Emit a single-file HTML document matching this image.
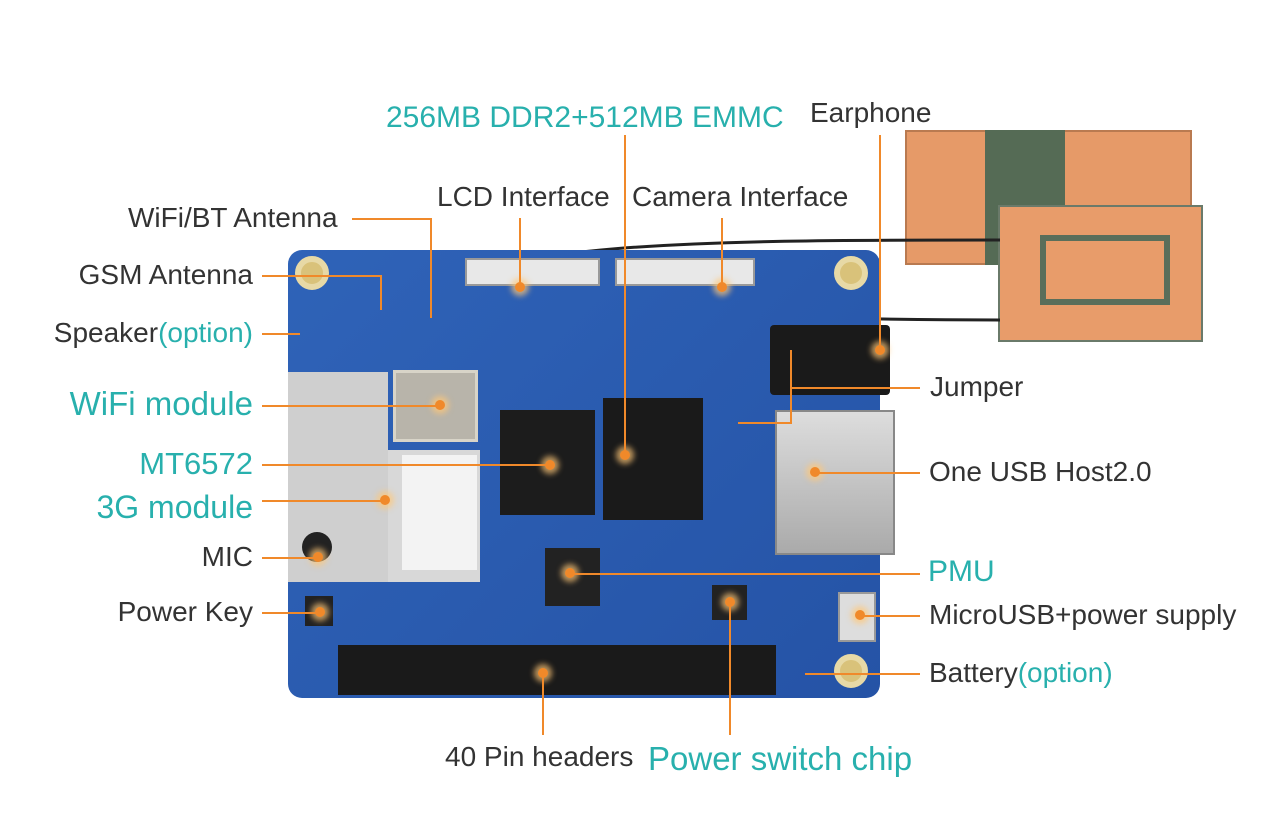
<!DOCTYPE html>
<html><head><meta charset="utf-8"><style>
body{margin:0;width:1282px;height:835px;background:#fff;position:relative;overflow:hidden;font-family:"Liberation Sans",sans-serif}
div{position:absolute;box-sizing:border-box}
.t{font-size:28px;color:#333;white-space:nowrap;line-height:30px}
.r{text-align:right;right:1029px}
.c{color:#28b0ad}
.h{height:2px;background:#f0892a}
.v{width:2px;background:#f0892a}
.dot{width:10px;height:10px;border-radius:50%;background:#f0892a;box-shadow:0 0 6px 4px rgba(255,200,120,.7)}
</style></head><body>
<div style="left:905px;top:130px;width:287px;height:135px;background:#e69a68;border:2px solid #b97a50"></div>
<div style="left:985px;top:130px;width:80px;height:135px;background:#556b55"></div>
<div style="left:998px;top:205px;width:205px;height:137px;background:#e89c6a;border:2px solid #6a7a6a"></div>
<div style="left:1040px;top:235px;width:130px;height:70px;border:6px solid #5a6e5a"></div>
<svg style="position:absolute;left:0;top:0" width="1282" height="835"><path d="M420 320 C430 240 700 240 1000 240" stroke="#222" stroke-width="3" fill="none"/><path d="M440 320 C470 300 700 320 1000 320" stroke="#222" stroke-width="3" fill="none"/></svg>
<div style="left:288px;top:250px;width:592px;height:448px;background:linear-gradient(135deg,#2f63b8,#2553a6);border-radius:14px"></div>
<div style="left:295px;top:256px;width:34px;height:34px;border-radius:50%;background:#d9c27a;border:6px solid #e7d9a6"></div>
<div style="left:834px;top:256px;width:34px;height:34px;border-radius:50%;background:#d9c27a;border:6px solid #e7d9a6"></div>
<div style="left:834px;top:654px;width:34px;height:34px;border-radius:50%;background:#d9c27a;border:6px solid #e7d9a6"></div>
<div style="left:465px;top:258px;width:135px;height:28px;background:#e8e8e8;border:2px solid #999"></div>
<div style="left:615px;top:258px;width:140px;height:28px;background:#e8e8e8;border:2px solid #999"></div>
<div style="left:288px;top:372px;width:100px;height:210px;background:#cfcfcf"></div>
<div style="left:388px;top:450px;width:92px;height:132px;background:#d8d8d8"></div>
<div style="left:402px;top:455px;width:75px;height:115px;background:#f3f3f3"></div>
<div style="left:393px;top:370px;width:85px;height:72px;background:#b8b4aa;border:3px solid #d8d4c8"></div>
<div style="left:500px;top:410px;width:95px;height:105px;background:#1c1c1c"></div>
<div style="left:603px;top:398px;width:100px;height:122px;background:#1a1a1a"></div>
<div style="left:545px;top:548px;width:55px;height:58px;background:#222"></div>
<div style="left:712px;top:585px;width:35px;height:35px;background:#222"></div>
<div style="left:775px;top:410px;width:120px;height:145px;background:linear-gradient(#ddd,#aaa);border:2px solid #888"></div>
<div style="left:770px;top:325px;width:120px;height:70px;background:#1a1a1a;border-radius:4px"></div>
<div style="left:838px;top:592px;width:38px;height:50px;background:#ddd;border:2px solid #999"></div>
<div style="left:338px;top:645px;width:438px;height:50px;background:#1a1a1a"></div>
<div style="left:302px;top:532px;width:30px;height:30px;border-radius:50%;background:#222"></div>
<div style="left:305px;top:596px;width:28px;height:30px;background:#222"></div>
<div class="dot" style="left:515px;top:282px"></div><div class="dot" style="left:717px;top:282px"></div>
<div class="dot" style="left:435px;top:400px"></div><div class="dot" style="left:545px;top:460px"></div>
<div class="dot" style="left:620px;top:450px"></div><div class="dot" style="left:380px;top:495px"></div>
<div class="dot" style="left:313px;top:552px"></div><div class="dot" style="left:315px;top:607px"></div>
<div class="dot" style="left:565px;top:568px"></div><div class="dot" style="left:725px;top:597px"></div>
<div class="dot" style="left:538px;top:668px"></div><div class="dot" style="left:810px;top:467px"></div>
<div class="dot" style="left:855px;top:610px"></div><div class="dot" style="left:875px;top:345px"></div>
<div class="v" style="left:624px;top:135px;height:320px"></div>
<div class="v" style="left:879px;top:135px;height:215px"></div>
<div class="v" style="left:519px;top:218px;height:70px"></div>
<div class="v" style="left:721px;top:218px;height:70px"></div>
<div class="h" style="left:352px;top:218px;width:80px"></div><div class="v" style="left:430px;top:218px;height:100px"></div>
<div class="h" style="left:262px;top:275px;width:120px"></div><div class="v" style="left:380px;top:275px;height:35px"></div>
<div class="h" style="left:262px;top:333px;width:38px"></div>
<div class="h" style="left:262px;top:405px;width:178px"></div>
<div class="h" style="left:262px;top:464px;width:288px"></div>
<div class="h" style="left:262px;top:500px;width:123px"></div>
<div class="h" style="left:262px;top:557px;width:56px"></div>
<div class="h" style="left:262px;top:612px;width:58px"></div>
<div class="h" style="left:790px;top:387px;width:130px"></div><div class="v" style="left:790px;top:350px;height:72px"></div>
<div class="h" style="left:738px;top:422px;width:54px"></div>
<div class="h" style="left:815px;top:472px;width:105px"></div>
<div class="h" style="left:570px;top:573px;width:350px"></div>
<div class="h" style="left:860px;top:615px;width:60px"></div>
<div class="h" style="left:805px;top:673px;width:115px"></div>
<div class="v" style="left:542px;top:672px;height:63px"></div>
<div class="v" style="left:729px;top:600px;height:135px"></div>
<div class="t c" style="left:386px;top:103px;font-size:30px">256MB DDR2+512MB EMMC</div>
<div class="t" style="left:810px;top:98px">Earphone</div>
<div class="t" style="left:437px;top:182px">LCD Interface</div>
<div class="t" style="left:632px;top:182px">Camera Interface</div>
<div class="t" style="left:128px;top:203px">WiFi/BT Antenna</div>
<div class="t r" style="top:260px">GSM Antenna</div>
<div class="t r" style="top:318px">Speaker<span class="c">(option)</span></div>
<div class="t c r" style="top:389px;font-size:33px">WiFi module</div>
<div class="t c r" style="top:449px;font-size:31px">MT6572</div>
<div class="t c r" style="top:492px;font-size:32px">3G module</div>
<div class="t r" style="top:542px">MIC</div>
<div class="t r" style="top:597px">Power Key</div>
<div class="t" style="left:930px;top:372px">Jumper</div>
<div class="t" style="left:929px;top:457px">One USB Host2.0</div>
<div class="t c" style="left:928px;top:557px;font-size:30px">PMU</div>
<div class="t" style="left:929px;top:600px">MicroUSB+power supply</div>
<div class="t" style="left:929px;top:658px">Battery<span class="c">(option)</span></div>
<div class="t" style="left:445px;top:742px">40 Pin headers</div>
<div class="t c" style="left:648px;top:744px;font-size:33px">Power switch chip</div>
</body></html>
